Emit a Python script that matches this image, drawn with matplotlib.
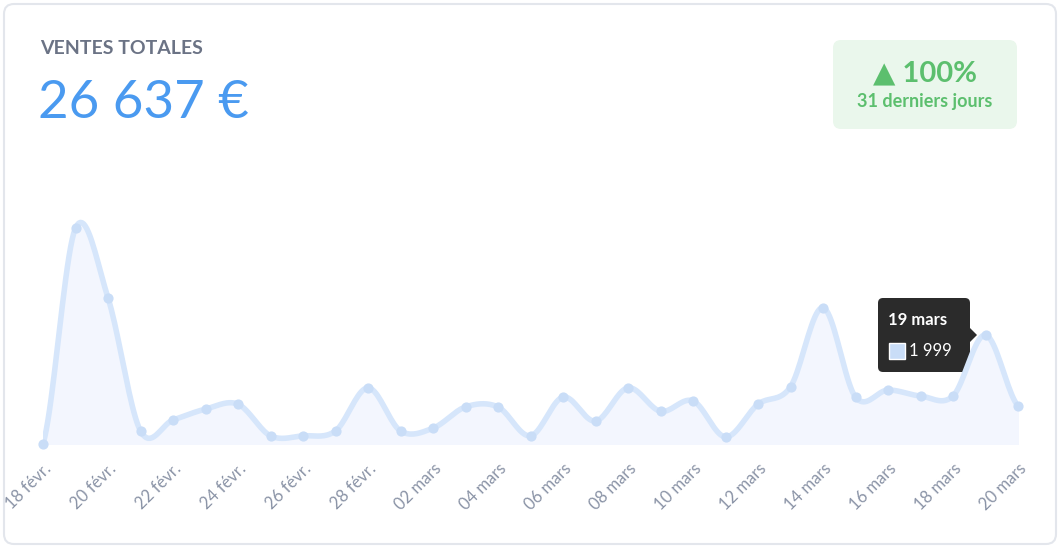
import numpy as np
import matplotlib
matplotlib.use("Agg")
import matplotlib.pyplot as plt
from matplotlib.patches import FancyBboxPatch, Rectangle, Polygon

plt.rcParams['font.family'] = ['Lato', 'DejaVu Sans']

days = ["18 févr.","19 févr.","20 févr.","21 févr.","22 févr.","23 févr.","24 févr.","25 févr.","26 févr.","27 févr.","28 févr.",
        "01 mars","02 mars","03 mars","04 mars","05 mars","06 mars","07 mars","08 mars","09 mars","10 mars",
        "11 mars","12 mars","13 mars","14 mars","15 mars","16 mars","17 mars","18 mars","19 mars","20 mars"]
values = [0,3960,2680,240,440,640,730,150,150,240,1030,240,290,680,680,150,860,420,1030,600,790,130,730,1050,2500,860,990,880,880,1999,700]

W, H = 1060, 548
fig = plt.figure(figsize=(W/100, H/100), dpi=100)
bg = fig.add_axes([0,0,1,1]); bg.set_xlim(0,W); bg.set_ylim(H,0); bg.axis('off')
bg.add_patch(FancyBboxPatch((4,4),W-8,H-8,boxstyle="round,pad=0,rounding_size=10",fc='white',ec='#e3e6ec',lw=1.5))
bg.text(40,48,"VENTES TOTALES",fontsize=14,color='#6b7385',va='center',fontweight='bold')
bg.text(38,103,"26 637 €",fontsize=38,color='#4a9af0',va='center')
bg.add_patch(FancyBboxPatch((833,40),184,89,boxstyle="round,pad=0,rounding_size=8",fc='#eaf7ec',ec='none'))
bg.text(925,73,"▲ 100%",fontsize=21,color='#5cbf6e',ha='center',va='center',fontweight='bold')
bg.text(925,102,"31 derniers jours",fontsize=13,color='#5cbf6e',ha='center',va='center',fontweight='bold')

x0, x1, yb, yt = 43, 1018, 444, 170
ax = fig.add_axes([x0/W, 1-yb/H, (x1-x0)/W, (yb-yt)/H])
ax.patch.set_alpha(0)
n = len(values)
xs = np.arange(n)
ys = np.array(values, float)
p = np.concatenate([[ys[0]], ys, [ys[-1]]])
sx, sy = [], []
for i in range(n-1):
    t = np.linspace(0,1,20,endpoint=False)
    a,b,c,d = p[i],p[i+1],p[i+2],p[i+3]
    yy = 0.5*((2*b)+(-a+c)*t+(2*a-5*b+4*c-d)*t**2+(-a+3*b-3*c+d)*t**3)
    sx.extend(i+t); sy.extend(yy)
sx.append(n-1); sy.append(ys[-1])
sy = np.maximum(np.array(sy), 0)
ax.fill_between(sx, sy, 0, color='#f3f6fe')
ax.plot(sx, sy, color='#d6e6fb', lw=4, solid_capstyle='round')
ax.scatter(xs, ys, s=40, color='#c9ddf7', zorder=3, clip_on=False)
ax.set_xlim(0, n-1); ax.set_ylim(0, 5025)
for s in ax.spines.values(): s.set_visible(False)
ax.set_yticks([])
ax.set_xticks(xs[::2])
ax.set_xticklabels(days[::2], rotation=45, ha='right', rotation_mode='anchor', fontsize=12, color='#8a93a6')
ax.tick_params(axis='x', length=0, pad=12)

bg.add_patch(FancyBboxPatch((878,298),92,74,boxstyle="round,pad=0,rounding_size=5",fc='#2b2b2b',ec='none'))
bg.add_patch(Polygon([[970,328],[977,335],[970,342]],closed=True,fc='#2b2b2b',ec='none'))
bg.text(888,320,"19 mars",fontsize=12,color='white',fontweight='bold',va='center')
bg.add_patch(Rectangle((889,343),16,16,fc='#c9ddf7',ec='white',lw=1))
bg.text(909,351,"1 999",fontsize=12,color='white',va='center')

fig.savefig("out.png", dpi=100)
